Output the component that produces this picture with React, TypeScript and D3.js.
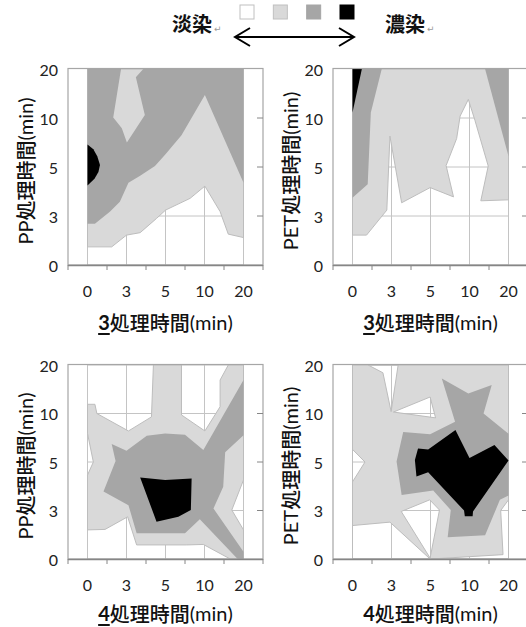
import * as d3 from "d3";

// category labels on both axes (min)
const xCategories = ["0", "3", "5", "10", "20"];
const yCategories = ["0", "3", "5", "10", "20"];
const legendLabels = ["淡染", "濃染"];
const levelColors = ["#ffffff", "#d9d9d9", "#a6a6a6", "#000000"];

type Pt = [number, number];

// contour regions, in [x category index, y category index]
// panel 1: PP × 3
const pp3Light: Pt[] = [[0, 0.37], [0.62, 0.37], [1.0, 0.61], [1.35, 0.66], [1.77, 0.95], [2.0, 1.12], [2.63, 1.36], [3.01, 1.61], [3.4, 1.09], [3.61, 0.63], [4, 0.56], [4, 4], [0, 4]];
const pp3Holes: Pt[][] = [];
const pp3Mid: Pt[][] = [[[0, 0.84], [0.19, 0.84], [0.58, 1.09], [0.83, 1.29], [1.05, 1.68], [1.35, 1.82], [1.73, 2.02], [2.0, 2.26], [2.41, 2.65], [3.01, 3.47], [4, 1.68], [4, 4], [1.43, 4], [1.24, 3.83], [1.47, 3.06], [1.01, 2.5], [0.88, 2.79], [0.66, 3.01], [0.86, 4], [0, 4]]];
const pp3Black: Pt[][] = [[[0, 2.46], [0.15, 2.36], [0.25, 2.22], [0.32, 2.04], [0.28, 1.9], [0.18, 1.76], [0, 1.62]]];

// panel 2: PET × 3
const pet3Light: Pt[] = [[0, 4], [4, 4], [4, 1.33], [3.29, 1.31], [3.48, 2.02], [3.14, 2.95], [2.97, 3.38], [2.76, 3.04], [2.67, 2.58], [2.4, 2.03], [2.59, 1.39], [1.99, 1.58], [1.26, 1.27], [0.96, 2.63], [0.88, 1.12], [0.36, 0.61], [0, 0.61]];
const pet3Holes: Pt[][] = [];
const pet3Mid: Pt[][] = [[[0, 4], [0.75, 4], [0.47, 3.11], [0.39, 1.65], [0, 1.37]], [[3.4, 4], [4, 4], [4, 2.22]]];
const pet3Black: Pt[][] = [[[0, 4], [0.24, 4], [0, 3.11]]];

// panel 3: PP × 4
const pp4Light: Pt[] = [[0, 3.19], [0.19, 3.19], [0.24, 3.0], [1.05, 2.64], [1.64, 2.93], [1.69, 4], [2.41, 4], [2.41, 2.97], [3.01, 2.64], [3.4, 3.14], [3.4, 3.69], [3.61, 4], [4, 4], [4, 1.63], [3.7, 1.01], [4, 0.6], [4, 0], [3.66, 0], [2.97, 0.3], [2.54, 0.29], [1.26, 0.29], [1.03, 0.87], [0.45, 0.61], [0, 0.6], [0, 1.73], [0.15, 2.0], [0, 2.59]];
const pp4Holes: Pt[][] = [];
const pp4Mid: Pt[][] = [[[0.62, 2.37], [1.0, 2.23], [1.52, 2.54], [1.99, 2.59], [2.5, 2.56], [2.97, 2.25], [4, 3.69], [4, 2.55], [3.53, 2.2], [3.48, 1.49], [3.23, 1.04], [4, 0.15], [4, 0], [3.85, 0], [2.88, 0.82], [2.5, 0.53], [1.26, 0.53], [1.05, 1.11], [0.41, 1.39], [0.72, 2.02]]];
const pp4Black: Pt[][] = [[[1.35, 1.68], [1.99, 1.63], [2.67, 1.66], [2.65, 1.01], [2.33, 0.87], [1.77, 0.77]]];

// panel 4: PET × 4
const pet4Light: Pt[] = [[0, 0], [4, 0], [4, 4], [0, 4]];
const pet4Holes: Pt[][] = [
  [[0.4, 4], [0.78, 3.84], [0.99, 3.04], [1.17, 4]],
  [[1.05, 3.03], [1.99, 3.34], [2.13, 2.91]],
  [[0, 2.26], [0.32, 2.0], [0, 1.59]],
  [[0, 0.69], [0.96, 0.76], [1.99, 0], [0, 0]],
  [[1.25, 0.98], [1.98, 1.22], [2.23, 1.01], [1.99, 0.02]],
  [[2.01, 0], [3.86, 0.09], [3.8, 1.0], [4, 1.22], [4, 0]],
];
const pet4Mid: Pt[][] = [[[2.29, 3.72], [2.97, 3.41], [3.57, 3.59], [3.36, 3.0], [4, 2.58], [4, 1.31], [3.78, 1.22], [3.4, 0.49], [2.44, 0.45], [2.52, 1.01], [2.07, 1.41], [1.26, 1.32], [1.13, 2.01], [1.3, 2.62], [1.99, 2.57], [2.63, 2.83]]];
const pet4Black: Pt[][] = [[[1.6, 2.04], [1.68, 2.28], [1.94, 2.26], [2.64, 2.66], [3.0, 2.08], [3.64, 2.35], [4, 2.03], [3.09, 0.98], [3.08, 0.88], [2.88, 0.88], [2.86, 1.0], [1.94, 1.79], [1.64, 1.7]]];

const panels = [
  { yTitle: "PP", xNum: "3", underline: true, light: pp3Light, holes: pp3Holes, mid: pp3Mid, black: pp3Black },
  { yTitle: "PET", xNum: "3", underline: true, light: pet3Light, holes: pet3Holes, mid: pet3Mid, black: pet3Black },
  { yTitle: "PP", xNum: "4", underline: true, light: pp4Light, holes: pp4Holes, mid: pp4Mid, black: pp4Black },
  { yTitle: "PET", xNum: "4", underline: false, light: pet4Light, holes: pet4Holes, mid: pet4Mid, black: pet4Black },
];

const frames = [
  { left: 68, top: 69, bottom: 265, titleGap: 57 },
  { left: 333, top: 69, bottom: 265, titleGap: 57 },
  { left: 68, top: 365, bottom: 559, titleGap: 54 },
  { left: 333, top: 365, bottom: 559, titleGap: 54 },
];

const PLOT_W = 195;
const latin = "Lato, 'Noto Sans CJK JP', sans-serif";
const cjk = "'Noto Sans CJK JP', sans-serif";

function Panel({ p, f }: { p: (typeof panels)[number]; f: (typeof frames)[number] }) {
  const right = f.left + PLOT_W;
  const x = d3.scaleLinear().domain([-0.5, 4.5]).range([f.left, right]);
  const y = d3.scaleLinear().domain([0, 4]).range([f.bottom, f.top]);
  const band = d3.scaleBand().domain(xCategories).range([f.left, right]);
  const line = d3.line<Pt>().x(d => x(d[0])).y(d => y(d[1]));
  const ring = (pts: Pt[]) => line(pts) + "Z";
  const idx = d3.range(xCategories.length);

  return (
    <g>
      {/* grid under the fills */}
      {idx.map(i => (
        <line key={"v" + i} x1={x(i)} x2={x(i)} y1={y(0)} y2={y(4)} stroke="#c4c4c4" />
      ))}
      {idx.map(i => (
        <line key={"h" + i} x1={x(0)} x2={x(4)} y1={y(i)} y2={y(i)} stroke="#c4c4c4" />
      ))}

      <path d={[p.light, ...p.holes].map(ring).join("")} fill={levelColors[1]} fillRule="evenodd" stroke="#bdbdbd" strokeWidth={1} />
      {p.mid.map((m, i) => <path key={"m" + i} d={ring(m)} fill={levelColors[2]} />)}
      {p.black.map((b, i) => <path key={"b" + i} d={ring(b)} fill={levelColors[3]} />)}

      <rect x={f.left} y={f.top - 0.5} width={PLOT_W} height={f.bottom - f.top + 0.5} fill="none" stroke="#a6a6a6" strokeWidth={1.2} />
      <line x1={f.left} x2={right} y1={f.bottom + 0.5} y2={f.bottom + 0.5} stroke="#868686" strokeWidth={1.3} />
      {d3.range(xCategories.length + 1).map(i => (
        <line key={"t" + i} x1={f.left + i * band.step()} x2={f.left + i * band.step()} y1={f.bottom} y2={f.bottom + 5} stroke="#868686" />
      ))}
      {[1, 2, 3].map(i => (
        <line key={"r" + i} x1={right - 6} x2={right} y1={y(i)} y2={y(i)} stroke="#868686" />
      ))}

      {xCategories.map(c => (
        <text key={"xl" + c} x={band(c)! + band.bandwidth() / 2} y={f.bottom + 25} textAnchor="middle" dominantBaseline="central" fontSize={16} fontFamily={latin} fill="#222">{c}</text>
      ))}
      {yCategories.map((c, i) => (
        <text key={"yl" + c} x={f.left - 10} y={y(i)} textAnchor="end" dominantBaseline="central" fontSize={16} fontFamily={latin} fill="#222">{c}</text>
      ))}

      <text x={(x(0) + x(4)) / 2} y={f.bottom + f.titleGap} textAnchor="middle" dominantBaseline="central" fontSize={20} fontFamily={latin} fill="#111">
        <tspan fontWeight="bold" style={{ textDecoration: p.underline ? "underline" : "none" }}>{p.xNum}</tspan>
        <tspan fontFamily={cjk} fontWeight={500}>処理時間</tspan>
        <tspan>(min)</tspan>
      </text>
      <text transform={`translate(${f.left - 43},${(f.top + f.bottom) / 2 + 4}) rotate(-90)`} textAnchor="middle" dominantBaseline="central" fontSize={20} fontFamily={latin} fill="#111">
        <tspan>{p.yTitle}</tspan>
        <tspan fontFamily={cjk} fontWeight={500}>処理時間</tspan>
        <tspan>(min)</tspan>
      </text>
    </g>
  );
}

function Legend() {
  const boxX = d3.scaleLinear().domain([0, levelColors.length - 1]).range([240, 340]);
  return (
    <g>
      {levelColors.map((c, i) => (
        <rect key={c} x={boxX(i)} y={5} width={14} height={14} fill={c} stroke={i < 2 ? "#c0c0c0" : c} strokeWidth={1} />
      ))}
      <text x={172} y={31.5} fontSize={20} fontFamily={cjk} fontWeight={700} fill="#111">{legendLabels[0]}</text>
      <text x={214} y={32} fontSize={9} fontFamily="DejaVu Sans" fill="#9a9a9a">↵</text>
      <text x={385} y={31.5} fontSize={20} fontFamily={cjk} fontWeight={700} fill="#111">{legendLabels[1]}</text>
      <text x={427} y={32} fontSize={9} fontFamily="DejaVu Sans" fill="#9a9a9a">↵</text>
      <g stroke="#000" strokeWidth={2} fill="none">
        <line x1={235} x2={354} y1={37} y2={37} />
        <polyline points="250,28 235,37 250,46" />
        <polyline points="339,28 354,37 339,46" />
      </g>
    </g>
  );
}

export default function App() {
  return (
    <div>
      <style>{`body{margin:0}`}</style>
      <svg width={526} height={627} style={{ display: "block", background: "#fff" }}>
        <Legend />
        {panels.map((p, i) => <Panel key={i} p={p} f={frames[i]} />)}
      </svg>
    </div>
  );
}
